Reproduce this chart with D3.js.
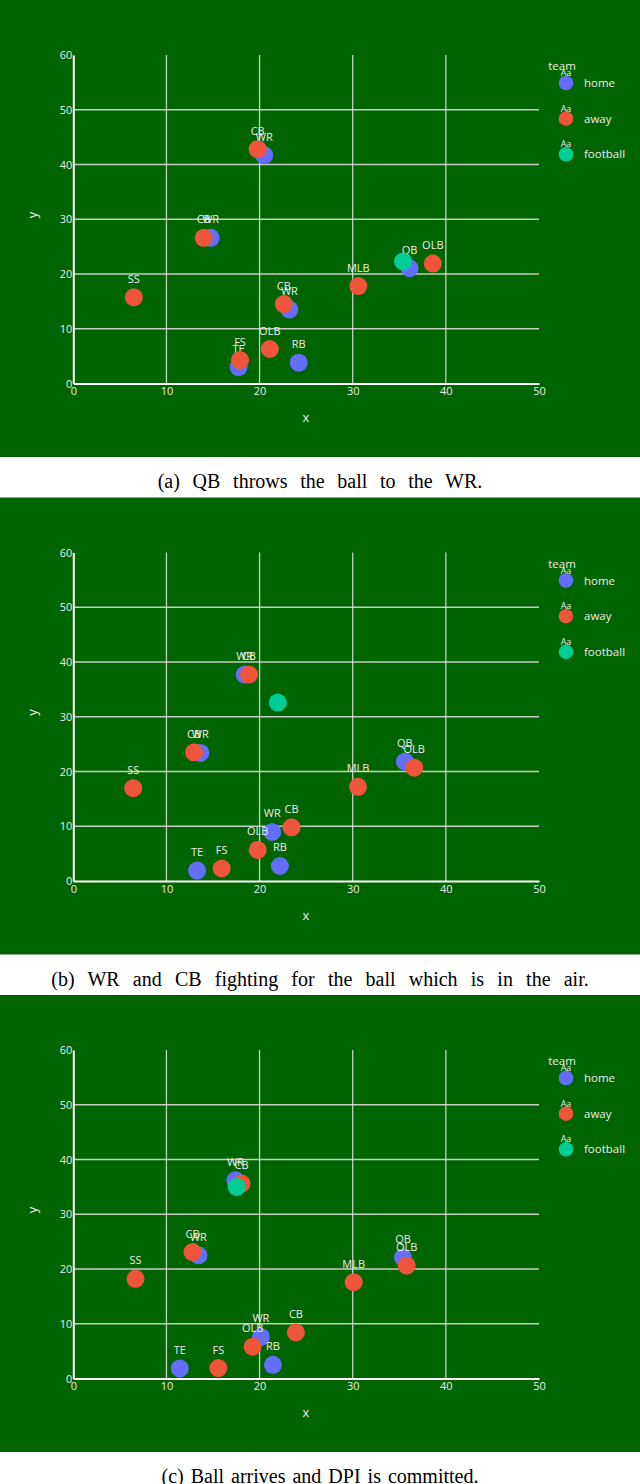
<!DOCTYPE html>
<html>
<head>
<meta charset="utf-8">
<script src="https://cdn.jsdelivr.net/npm/d3@7"></script>
<style>
  body { margin: 0; background: #fff; }
  svg { display: block; }
</style>
</head>
<body>
<div class="chart"></div>
<script>
// player positions, one list per team (same order in every frame)
var homePos = ["WR", "WR", "WR", "QB", "RB", "TE"];
var awayPos = ["CB", "CB", "CB", "SS", "MLB", "OLB", "OLB", "FS"];

// frame (a), (b), (c)
var homeX = [
  [20.5, 14.75, 23.2, 36.1, 24.2, 17.75],
  [18.4, 13.64, 21.36, 35.6, 22.18, 13.29],
  [17.4, 13.43, 20.14, 35.4, 21.43, 11.43]
];
var homeY = [
  [41.7, 26.6, 13.5, 21.05, 3.8, 3.0],
  [37.7, 23.4, 8.96, 21.8, 2.74, 1.9],
  [36.2, 22.5, 7.6, 22.1, 2.5, 1.83]
];
var awayX = [
  [19.8, 14.0, 22.6, 6.5, 30.6, 38.6, 21.1, 17.9],
  [18.86, 12.96, 23.43, 6.43, 30.57, 36.6, 19.8, 15.93],
  [18.07, 12.8, 23.9, 6.68, 30.1, 35.8, 19.25, 15.57]
];
var awayY = [
  [42.8, 26.6, 14.5, 15.75, 17.8, 21.9, 6.3, 4.25],
  [37.7, 23.5, 9.8, 16.95, 17.2, 20.7, 5.67, 2.3],
  [35.6, 23.1, 8.4, 18.2, 17.6, 20.6, 5.8, 1.9]
];
var ballX = [35.4, 21.96, 17.54];
var ballY = [22.3, 32.6, 35.0];

var captions = [
  "(a) QB throws the ball to the WR.",
  "(b) WR and CB fighting for the ball which is in the air.",
  "(c) Ball arrives and DPI is committed."
];

var teams = ["home", "away", "football"];
var teamColors = ["#636efa", "#ef553b", "#00cc96"];
var xTicks = [0, 10, 20, 30, 40, 50];
var yTicks = [0, 10, 20, 30, 40, 50, 60];

(function() {
  var W = 640, H = 1484;
  var PANEL_H = 457, STEP = 497.5;
  var FONT = "'Open Sans', 'Noto Sans', sans-serif";
  var TXT = "#ececec";
  // latex-ish justified captions: extra space between words
  var CAPTION_WORD_SPACING = [7.7, 8.2, 2];

  var svg = d3.select(".chart").append("svg")
    .attr("width", W)
    .attr("height", H);

  var x = d3.scaleLinear().domain([0, 50]).range([73.3, 539]);
  var y = d3.scaleLinear().domain([0, 60]).range([383.5, 55]);
  var color = d3.scaleOrdinal().domain(teams).range(teamColors);

  // {{{ one panel per frame
  function drawPanel(i) {
    var g = svg.append("g").attr("transform", "translate(0," + (i * STEP) + ")");

    g.append("rect")
      .attr("width", W)
      .attr("height", PANEL_H)
      .attr("fill", "#006400");

    // grid
    g.append("g").selectAll("line")
      .data(xTicks.filter(function(d) { return d > 0 && d < 50; }))
      .enter().append("line")
        .attr("x1", function(d) { return x(d); })
        .attr("x2", function(d) { return x(d); })
        .attr("y1", y(60)).attr("y2", y(0))
        .attr("stroke", "#e4e4e4").attr("stroke-opacity", 0.85).attr("stroke-width", 1.3);
    g.append("g").selectAll("line")
      .data(yTicks.filter(function(d) { return d > 0 && d < 60; }))
      .enter().append("line")
        .attr("x1", x(0)).attr("x2", x(50))
        .attr("y1", function(d) { return y(d); })
        .attr("y2", function(d) { return y(d); })
        .attr("stroke", "#e4e4e4").attr("stroke-opacity", 0.85).attr("stroke-width", 1.3);

    // axes
    var xAxis = g.append("g")
      .attr("transform", "translate(0," + y(0) + ")")
      .call(d3.axisBottom(x).tickValues(xTicks).tickSize(0).tickPadding(4));
    var yAxis = g.append("g")
      .attr("transform", "translate(" + x(0) + ",0)")
      .call(d3.axisLeft(y).tickValues(yTicks).tickSize(0).tickPadding(1));
    [xAxis, yAxis].forEach(function(a) {
      a.select(".domain").attr("stroke", "#fff").attr("stroke-width", 2);
      a.selectAll("text")
        .attr("fill", TXT)
        .style("font-family", FONT)
        .style("font-size", "11px");
    });

    g.append("text")
      .attr("x", 306).attr("y", 422)
      .attr("text-anchor", "middle")
      .attr("fill", TXT)
      .style("font-family", FONT).style("font-size", "13px")
      .text("x");
    g.append("text")
      .attr("transform", "translate(37,215) rotate(-90)")
      .attr("text-anchor", "middle")
      .attr("fill", TXT)
      .style("font-family", FONT).style("font-size", "13px")
      .text("y");

    // players
    var home = homePos.map(function(p, k) {
      return { pos: p, x: homeX[i][k], y: homeY[i][k], team: "home" };
    });
    var away = awayPos.map(function(p, k) {
      return { pos: p, x: awayX[i][k], y: awayY[i][k], team: "away" };
    });
    var ball = [{ pos: "", x: ballX[i], y: ballY[i], team: "football" }];

    [home, away, ball].forEach(function(trace) {
      var tg = g.append("g");
      tg.selectAll("circle")
        .data(trace)
        .enter().append("circle")
          .attr("cx", function(d) { return x(d.x); })
          .attr("cy", function(d) { return y(d.y); })
          .attr("r", 9)
          .attr("fill", function(d) { return color(d.team); });
      tg.selectAll("text")
        .data(trace.filter(function(d) { return d.pos; }))
        .enter().append("text")
          .attr("x", function(d) { return x(d.x); })
          .attr("y", function(d) { return y(d.y) - 14.5; })
          .attr("text-anchor", "middle")
          .attr("fill", TXT)
          .style("font-family", FONT)
          .style("font-size", "11px")
          .text(function(d) { return d.pos; });
    });

    // legend
    var lg = g.append("g");
    lg.append("text")
      .attr("x", 562).attr("y", 70)
      .attr("text-anchor", "middle")
      .attr("fill", TXT)
      .style("font-family", FONT).style("font-size", "11.5px")
      .text("team");
    teams.forEach(function(t, k) {
      var cy = 83 + k * 35.7;
      lg.append("text")
        .attr("x", 566).attr("y", cy - 7)
        .attr("text-anchor", "middle")
        .attr("fill", TXT)
        .style("font-family", FONT).style("font-size", "9px")
        .text("Aa");
      lg.append("circle")
        .attr("cx", 566).attr("cy", cy).attr("r", 7.3)
        .attr("fill", color(t));
      lg.append("text")
        .attr("x", 584).attr("y", cy + 4)
        .attr("fill", TXT)
        .style("font-family", FONT).style("font-size", "11.5px")
        .text(t);
    });

    // caption under the panel
    g.append("text")
      .attr("x", W / 2).attr("y", PANEL_H + 31)
      .attr("text-anchor", "middle")
      .attr("fill", "#000")
      .style("font-family", "'Liberation Serif', 'Times New Roman', serif")
      .style("font-size", "20px")
      .style("word-spacing", CAPTION_WORD_SPACING[i] + "px")
      .text(captions[i]);
  }
  // }}}

  for (var i = 0; i < 3; i++) {
    drawPanel(i);
  }
})();
</script>
</body>
</html>
